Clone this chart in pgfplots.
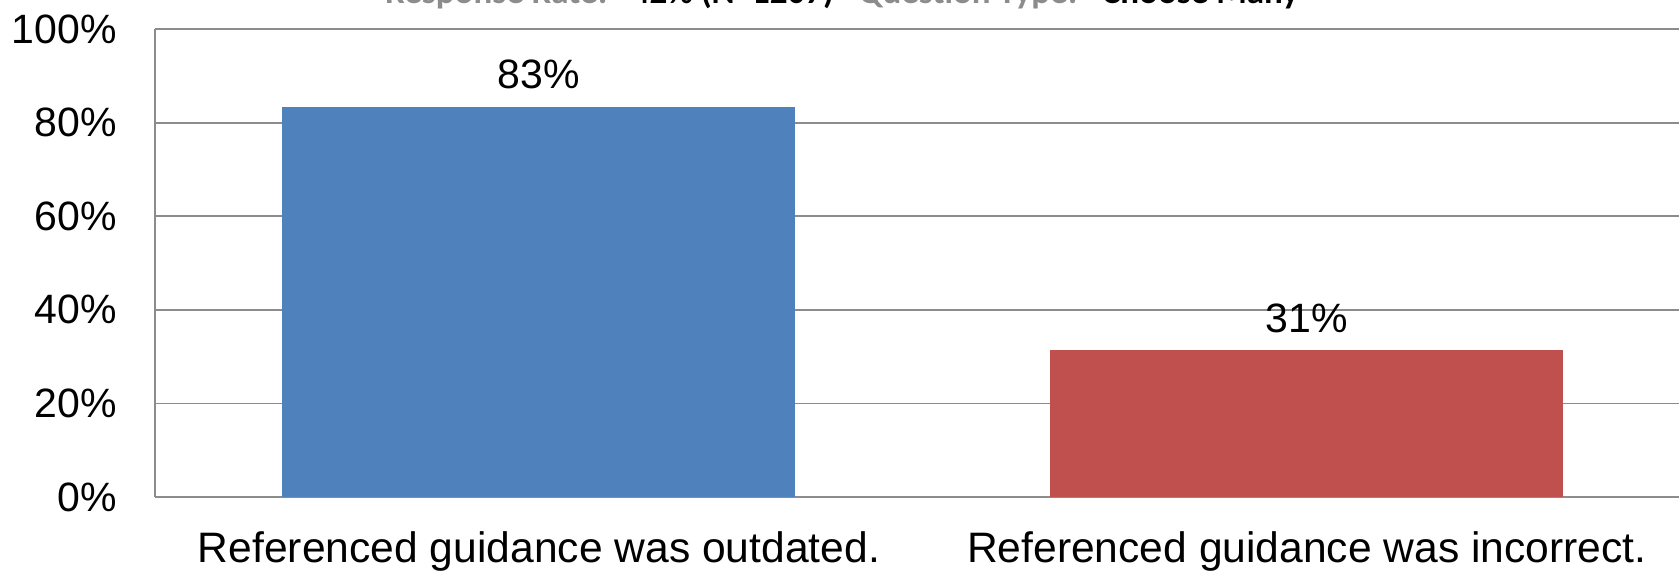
\documentclass[border=0pt]{standalone}
\usepackage{fontspec}
\setmainfont{Liberation Sans}
\newfontfamily\carlito{Carlito}
\usepackage{pgfplots}
\pgfplotsset{compat=1.18}
\definecolor{barblue}{HTML}{4F81BD}
\definecolor{barred}{HTML}{C0504D}
\definecolor{gridgray}{HTML}{8C8C8C}
\definecolor{titlegray}{HTML}{8C8C8C}
\begin{document}
\begin{tikzpicture}[x=1pt,y=1pt]
\useasboundingbox (0,0) rectangle (839.5,285);
\node[anchor=base, inner sep=0pt, font=\carlito\bfseries\fontsize{17.5}{21}\selectfont] at (421,283.2)
  {\textcolor{titlegray}{Response Rate:}\hspace{0.7em}42\% (N=1207)\hspace{0.7em}\textcolor{titlegray}{Question Type:}\hspace{0.7em}Choose Many};
\begin{axis}[
  at={(77.5pt,36.5pt)}, anchor=south west,
  scale only axis, width=767.9pt, height=234pt,
  xmin=-0.5, xmax=1.5, ymin=0, ymax=100,
  axis x line*=bottom, axis y line*=left,
  ytick={0,20,...,100},
  yticklabel={\pgfmathprintnumber{\tick}\%},
  xtick={0,1},
  xticklabels={Referenced guidance was outdated., Referenced guidance was incorrect.},
  major tick length=0pt,
  tick style={draw=none},
  ymajorgrids,
  grid style={gridgray, line width=0.9pt},
  axis line style={gridgray, line width=0.9pt},
  yticklabel style={inner sep=0pt, font=\fontsize{20.5}{24}\selectfont},
  yticklabel shift=19pt,
  xticklabel style={inner sep=0pt, anchor=north, font=\fontsize{21.3}{25}\selectfont},
  xticklabel shift=17pt,
  /pgf/number format/assume math mode=true,
  bar width=0.668,
  point meta=y,
  nodes near coords={\pgfmathprintnumber[fixed,precision=0]{\pgfplotspointmeta}\%},
  every node near coord/.append style={anchor=base, inner sep=0pt, yshift=9pt, font=\fontsize{20.5}{24}\selectfont, text=black},
  clip=false,
]
\addplot[ybar, fill=barblue, draw=none, bar shift=0pt] coordinates {(0,83.4)};
\addplot[ybar, fill=barred, draw=none, bar shift=0pt] coordinates {(1,31.4)};
\end{axis}
\end{tikzpicture}
\end{document}
